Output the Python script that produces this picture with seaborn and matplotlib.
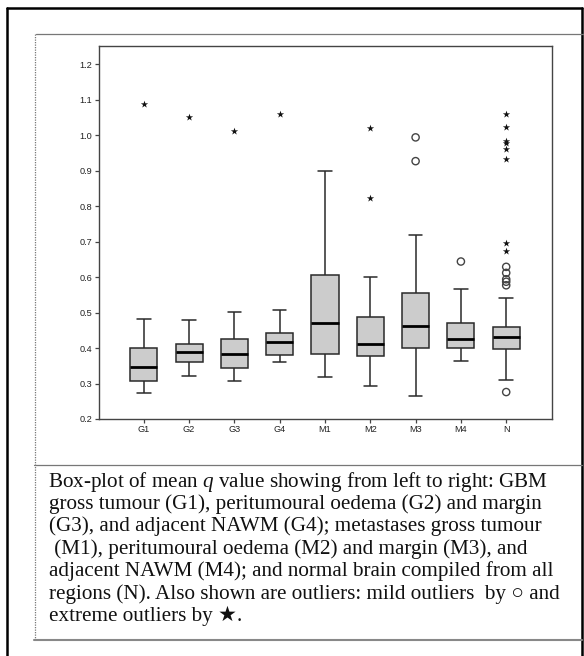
import numpy as np
import pandas as pd
import matplotlib
matplotlib.use("Agg")
import matplotlib.pyplot as plt
import seaborn as sns
from matplotlib.lines import Line2D

# five-number summaries
regions = ["G1", "G2", "G3", "G4", "M1", "M2", "M3", "M4", "N"]
whisker_low = [0.272, 0.321, 0.307, 0.361, 0.319, 0.293, 0.265, 0.364, 0.310]
q1 = [0.308, 0.361, 0.344, 0.380, 0.384, 0.378, 0.399, 0.401, 0.398]
median = [0.348, 0.389, 0.384, 0.416, 0.472, 0.411, 0.462, 0.426, 0.431]
q3 = [0.399, 0.411, 0.425, 0.442, 0.606, 0.487, 0.554, 0.472, 0.460]
whisker_high = [0.483, 0.479, 0.501, 0.507, 0.898, 0.601, 0.719, 0.567, 0.541]

# mild outliers (circles)
mild_region = ["M3", "M3", "M4", "N", "N", "N", "N", "N", "N"]
mild_value = [0.994, 0.927, 0.644, 0.629, 0.612, 0.594, 0.587, 0.577, 0.276]

# extreme outliers (stars)
extreme_region = ["G1", "G2", "G3", "G4", "M2", "M2",
                  "N", "N", "N", "N", "N", "N", "N", "N"]
extreme_value = [1.088, 1.052, 1.013, 1.061, 1.020, 0.822,
                 1.060, 1.022, 0.983, 0.977, 0.960, 0.933, 0.695, 0.674]

y_ticks = [0.2, 0.3, 0.4, 0.5, 0.6, 0.7, 0.8, 0.9, 1.0, 1.1, 1.2]

caption_lines = [
    "Box-plot of mean $q$ value showing from left to right: GBM",
    "gross tumour (G1), peritumoural oedema (G2) and margin",
    "(G3), and adjacent NAWM (G4); metastases gross tumour",
    " (M1), peritumoural oedema (M2) and margin (M3), and",
    "adjacent NAWM (M4); and normal brain compiled from all",
    "regions (N). Also shown are outliers: mild outliers  by \u25cb and",
    "extreme outliers by \u2605.",
]

# long table: 5 values per region so the quartiles land exactly on the summary
rows = []
for i, r in enumerate(regions):
    for v in (whisker_low[i], q1[i], median[i], q3[i], whisker_high[i]):
        rows.append({"region": r, "value": v})
box_df = pd.DataFrame(rows)

sns.set_style("ticks")
plt.rcParams["font.family"] = ["Liberation Sans", "DejaVu Sans"]
plt.rcParams["mathtext.fontset"] = "custom"
plt.rcParams["mathtext.rm"] = "Liberation Serif"
plt.rcParams["mathtext.it"] = "Liberation Serif:italic"

W, H = 584, 656
fig = plt.figure(figsize=(W / 100, H / 100), dpi=100)


def fx(x):
    return x / W


def fy(y):
    return 1 - y / H


ax = fig.add_axes([fx(98.5), fy(419), (551.5 - 98.5) / W, (419 - 45.7) / H])

edge = "#2a2a2a"
sns.boxplot(data=box_df, x="region", y="value", order=regions, whis=(0, 100),
            width=0.6, color="#cccccc", saturation=1, linecolor=edge,
            linewidth=1.1, showfliers=False,
            medianprops={"color": "black", "linewidth": 2.0}, ax=ax)

n_before = len(ax.collections)
sns.stripplot(x=mild_region, y=mild_value, order=regions, jitter=False,
              marker="o", size=5.2, color="white", edgecolor="#444444",
              linewidth=1.0, ax=ax)
for c in ax.collections[n_before:]:
    c.set_facecolor("none")

sns.stripplot(x=extreme_region, y=extreme_value, order=regions, jitter=False,
              marker="*", size=5.5, color="#111111", linewidth=0, ax=ax)

ax.set_xlim(-1, len(regions))
ax.set_ylim(0.2, 1.2525)
ax.set_yticks(y_ticks)
ax.set_yticklabels([f"{t:.1f}" for t in y_ticks])
ax.set_xticks(range(len(regions)))
ax.set_xticklabels(regions)
ax.set_xlabel("")
ax.set_ylabel("")
for s in ax.spines.values():
    s.set_visible(True)
    s.set_color("#444444")
    s.set_linewidth(1.0)
ax.tick_params(axis="both", direction="out", length=3, width=0.9,
               color="#444444", labelsize=6.6, labelcolor="#222222", pad=1.5)

# page frame
frame_kw = dict(transform=fig.transFigure, color="black", linewidth=1.8)
fig.add_artist(Line2D([fx(7), fx(7)], [fy(8), fy(656)], **frame_kw))
fig.add_artist(Line2D([fx(7), fx(582)], [fy(8), fy(8)], **frame_kw))
fig.add_artist(Line2D([fx(582), fx(582)], [fy(8), fy(656)], **frame_kw))

# chart / caption cell borders
gray_kw = dict(transform=fig.transFigure, color="#777777", linewidth=0.9)
fig.add_artist(Line2D([fx(36), fx(584)], [fy(34), fy(34)], **gray_kw))
fig.add_artist(Line2D([fx(35), fx(35)], [fy(34), fy(640)], linestyle=(0, (1, 1)),
                      **gray_kw))
fig.add_artist(Line2D([fx(34), fx(582)], [fy(465), fy(465)], **gray_kw))
fig.add_artist(Line2D([fx(34), fx(582)], [fy(640), fy(640)],
                      transform=fig.transFigure, color="#888888", linewidth=1.5))

# caption
baseline0 = 486.7
line_gap = 22.4
for i, line in enumerate(caption_lines):
    x0 = 47.5 if i == 0 else 49
    fig.text(fx(x0), fy(baseline0 + i * line_gap), line, ha="left",
             va="baseline", fontsize=15.2, color="#111111",
             family=["Liberation Serif", "DejaVu Sans"])

fig.savefig("out.png", dpi=100)
